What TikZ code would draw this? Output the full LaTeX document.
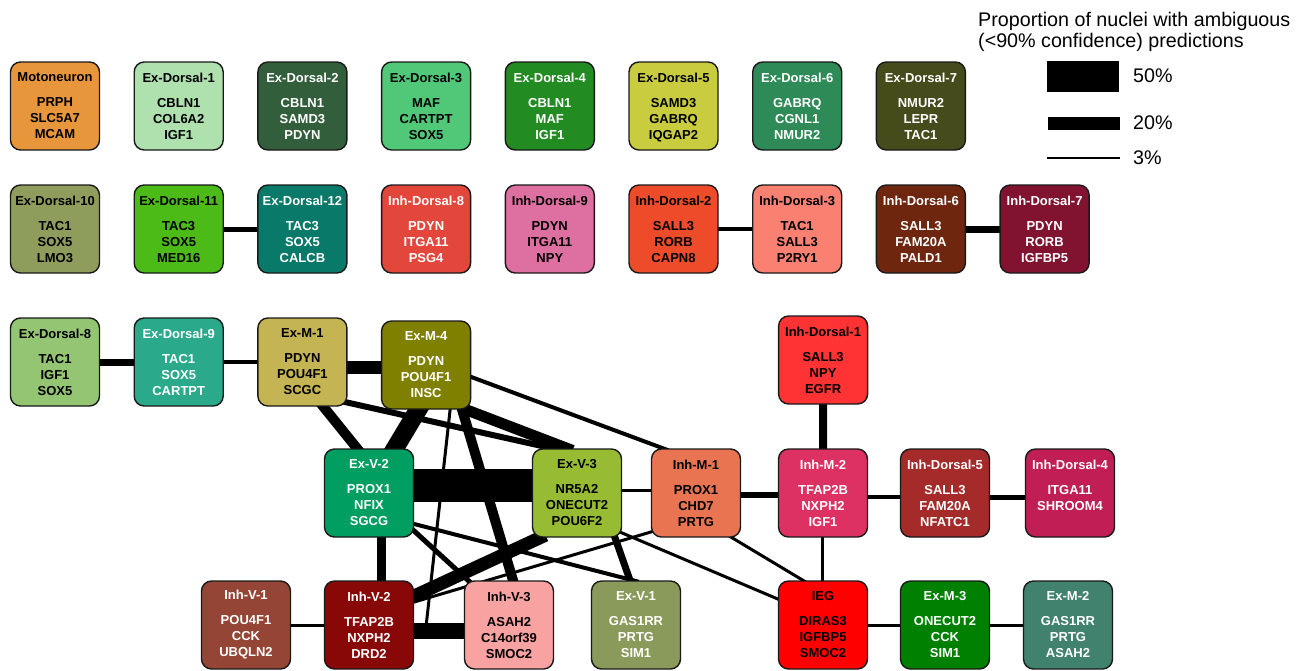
\documentclass[tikz,border=0pt]{standalone}
\usepackage{fontspec}
\setmainfont{Liberation Sans}
\usepackage{xcolor}
\usepackage{tikz}
\usetikzlibrary{positioning}
\pgfdeclarelayer{background}
\pgfsetlayers{background,main}
\definecolor{cMoto}{HTML}{E8963C}
\definecolor{cExDa}{HTML}{AFE1AF}
\definecolor{cExDb}{HTML}{335E3B}
\definecolor{cExDc}{HTML}{50C878}
\definecolor{cExDd}{HTML}{228B22}
\definecolor{cExDe}{HTML}{C9CC3F}
\definecolor{cExDf}{HTML}{2E8B57}
\definecolor{cExDg}{HTML}{454B1B}
\definecolor{cExDh}{HTML}{93C572}
\definecolor{cExDi}{HTML}{2AAA8A}
\definecolor{cExDj}{HTML}{8F9D5C}
\definecolor{cExDk}{HTML}{4CBB17}
\definecolor{cExDl}{HTML}{097969}
\definecolor{cInhDa}{HTML}{FF3333}
\definecolor{cInhDb}{HTML}{EE4B2B}
\definecolor{cInhDc}{HTML}{FA8072}
\definecolor{cInhDd}{HTML}{C21E56}
\definecolor{cInhDe}{HTML}{A52A2A}
\definecolor{cInhDf}{HTML}{6E260E}
\definecolor{cInhDg}{HTML}{811331}
\definecolor{cInhDh}{HTML}{E3463A}
\definecolor{cInhDi}{HTML}{DE6FA1}
\definecolor{cExMa}{HTML}{C4B454}
\definecolor{cExMb}{HTML}{40826D}
\definecolor{cExMc}{HTML}{008000}
\definecolor{cExMd}{HTML}{808000}
\definecolor{cExVa}{HTML}{8A9A5B}
\definecolor{cExVb}{HTML}{009E60}
\definecolor{cExVc}{HTML}{97BC34}
\definecolor{cInhMa}{HTML}{E97451}
\definecolor{cInhMb}{HTML}{DE3163}
\definecolor{cInhVa}{HTML}{954535}
\definecolor{cInhVb}{HTML}{880808}
\definecolor{cInhVc}{HTML}{F9A2A2}
\definecolor{cIEG}{HTML}{FF0000}
\tikzstyle{cell}     = [rectangle, draw=black!90, line width=1.4pt, rounded corners=10pt, minimum width=89pt, minimum height=88pt, inner sep=0pt, align=center, font=\fontsize{13}{16}\selectfont\bfseries]
\tikzstyle{light}    = [text=white]
\tikzstyle{link}     = [draw, line width=3pt, shorten <=-6pt, shorten >=-6pt]
\tikzstyle{key}      = [draw]
\tikzstyle{keylabel} = [anchor=west, inner sep=0pt, font=\fontsize{19.7}{21}\selectfont]

\begin{document}
\begin{tikzpicture}[x=1pt, y=-1pt, node distance=123.7pt, auto]
	\useasboundingbox (0,0) rectangle (1305,670);
	\node [cell, fill=cMoto] (moto) at (55,106) {Motoneuron\\[9pt]PRPH\\SLC5A7\\MCAM};
	\node [cell, fill=cExDa, right of=moto] (exd1) {Ex-Dorsal-1\\[9pt]CBLN1\\COL6A2\\IGF1};
	\node [cell, light, fill=cExDb, right of=exd1] (exd2) {Ex-Dorsal-2\\[9pt]CBLN1\\SAMD3\\PDYN};
	\node [cell, fill=cExDc, right of=exd2] (exd3) {Ex-Dorsal-3\\[9pt]MAF\\CARTPT\\SOX5};
	\node [cell, light, fill=cExDd, right of=exd3] (exd4) {Ex-Dorsal-4\\[9pt]CBLN1\\MAF\\IGF1};
	\node [cell, fill=cExDe, right of=exd4] (exd5) {Ex-Dorsal-5\\[9pt]SAMD3\\GABRQ\\\smash{IQGAP2}};
	\node [cell, light, fill=cExDf, right of=exd5] (exd6) {Ex-Dorsal-6\\[9pt]GABRQ\\CGNL1\\NMUR2};
	\node [cell, light, fill=cExDg, right of=exd6] (exd7) {Ex-Dorsal-7\\[9pt]NMUR2\\LEPR\\TAC1};

	\node [cell, fill=cExDj, below of=moto, node distance=123pt] (exd10) {Ex-Dorsal-10\\[9pt]TAC1\\SOX5\\LMO3};
	\node [cell, fill=cExDk, right of=exd10] (exd11) {Ex-Dorsal-11\\[9pt]TAC3\\SOX5\\MED16};
	\node [cell, light, fill=cExDl, right of=exd11] (exd12) {Ex-Dorsal-12\\[9pt]TAC3\\SOX5\\CALCB};
	\node [cell, light, fill=cInhDh, right of=exd12] (inhd8) {Inh-Dorsal-8\\[9pt]PDYN\\ITGA11\\PSG4};
	\node [cell, fill=cInhDi, right of=inhd8] (inhd9) {Inh-Dorsal-9\\[9pt]PDYN\\ITGA11\\NPY};
	\node [cell, fill=cInhDb, right of=inhd9] (inhd2) {Inh-Dorsal-2\\[9pt]SALL3\\RORB\\CAPN8};
	\node [cell, fill=cInhDc, right of=inhd2] (inhd3) {Inh-Dorsal-3\\[9pt]TAC1\\SALL3\\P2RY1};
	\node [cell, light, fill=cInhDf, right of=inhd3] (inhd6) {Inh-Dorsal-6\\[9pt]SALL3\\FAM20A\\PALD1};
	\node [cell, light, fill=cInhDg, right of=inhd6] (inhd7) {Inh-Dorsal-7\\[9pt]PDYN\\RORB\\IGFBP5};

	\node [cell, fill=cExDh, below of=exd10, node distance=133pt] (exd8) {Ex-Dorsal-8\\[9pt]TAC1\\IGF1\\SOX5};
	\node [cell, light, fill=cExDi, right of=exd8] (exd9) {Ex-Dorsal-9\\[9pt]TAC1\\SOX5\\CARTPT};
	\node [cell, fill=cExMa, right of=exd9] (exm1) {Ex-M-1\\[9pt]PDYN\\POU4F1\\SCGC};
	\node [cell, light, fill=cExMd, right of=exm1, yshift=-3pt] (exm4) {Ex-M-4\\[9pt]PDYN\\POU4F1\\INSC};
	\node [cell, fill=cInhDa, right of=exm4, node distance=397pt, yshift=5pt] (inhd1) {Inh-Dorsal-1\\[9pt]SALL3\\NPY\\EGFR};

	\node [cell, light, fill=cExVb] (exv2) at (369,493) {Ex-V-2\\[9pt]PROX1\\NFIX\\SGCG};
	\node [cell, fill=cExVc, right of=exv2, node distance=208pt] (exv3) {Ex-V-3\\[9pt]NR5A2\\ONECUT2\\POU6F2};
	\node [cell, fill=cInhMa, right of=exv3, node distance=119pt] (inhm1) {Inh-M-1\\[9pt]PROX1\\CHD7\\PRTG};
	\node [cell, light, fill=cInhMb, right of=inhm1, node distance=127pt] (inhm2) {Inh-M-2\\[9pt]TFAP2B\\NXPH2\\IGF1};
	\node [cell, light, fill=cInhDe, right of=inhm2, node distance=122pt] (inhd5) {Inh-Dorsal-5\\[9pt]SALL3\\FAM20A\\NFATC1};
	\node [cell, light, fill=cInhDd, right of=inhd5, node distance=125pt] (inhd4) {Inh-Dorsal-4\\[9pt]ITGA11\\SHROOM4\\~};

	\node [cell, light, fill=cInhVb, below of=exv2, node distance=132pt] (inhv2) {Inh-V-2\\[9pt]TFAP2B\\NXPH2\\DRD2};
	\node [cell, light, fill=cInhVa, left of=inhv2, node distance=123pt] (inhv1) {Inh-V-1\\[9pt]POU4F1\\CCK\\UBQLN2};
	\node [cell, fill=cInhVc, right of=inhv2, node distance=140pt] (inhv3) {Inh-V-3\\[9pt]ASAH2\\C14orf39\\SMOC2};
	\node [cell, light, fill=cExVa, right of=inhv3, node distance=127pt] (exv1) {Ex-V-1\\[9pt]GAS1RR\\PRTG\\SIM1};
	\node [cell, fill=cIEG, below of=inhm2, node distance=132pt] (ieg) {IEG\\[9pt]DIRAS3\\IGFBP5\\SMOC2};
	\node [cell, light, fill=cExMc, right of=ieg, node distance=122pt] (exm3) {Ex-M-3\\[9pt]ONECUT2\\CCK\\SIM1};
	\node [cell, light, fill=cExMb, right of=exm3, node distance=123pt] (exm2) {Ex-M-2\\[9pt]GAS1RR\\PRTG\\ASAH2};

	\begin{pgfonlayer}{background}
	\path [link, line width=5pt] (exd11) -- (exd12);
	\path [link, line width=4pt] (inhd2) -- (inhd3);
	\path [link, line width=7pt] (inhd6) -- (inhd7);
	\path [link, line width=7pt] (exd8) -- (exd9);
	\path [link, line width=4pt] (exd9) -- (exm1);
	\path [link, line width=13pt] ([yshift=-5pt]exm1.east) -- ([yshift=-2pt]exm4.west);
	\path [link, line width=4pt] ([yshift=-12pt]exm4.east) -- ([xshift=-33pt]inhm1.north);
	\path [link, line width=10pt] ([xshift=21pt]exm1.south) -- ([xshift=-12pt]exv2.north);
	\path [link, line width=18pt] ([xshift=-8pt]exm4.south) -- ([xshift=26pt]exv2.north);
	\path [link, line width=6pt] ([xshift=-4pt, yshift=5pt]exm1.south east) -- ([xshift=-25pt]exv3.north);
	\path [link, line width=11pt] ([xshift=40pt]exm4.south) -- ([xshift=-10pt]exv3.north);
	\path [link, line width=3pt] ([xshift=24pt]exm4.south) -- ([xshift=12pt]inhv2.east);
	\path [link, line width=10pt] ([xshift=36pt]exm4.south) -- ([xshift=4pt]inhv3.north);
	\path [link, line width=33pt] ([yshift=7.5pt]exv2.east) -- ([yshift=7.5pt]exv3.west);
	\path [link, line width=3pt] ([yshift=3pt]exv3.east) -- ([yshift=3pt]inhm1.west);
	\path [link, line width=6pt] ([yshift=-2pt]inhm1.east) -- ([yshift=-2pt]inhm2.west);
	\path [link, line width=4pt] ([yshift=-4pt]inhm2.east) -- ([yshift=-4pt]inhd5.west);
	\path [link, line width=5pt] ([yshift=-4pt]inhd5.east) -- ([yshift=-4pt]inhd4.west);
	\path [link, line width=8pt] (inhd1) -- (inhm2);
	\path [link, line width=3pt] ([xshift=-1pt]inhm2.south) -- ([xshift=-1pt]ieg.north);
	\path [link, line width=3pt] ([xshift=36pt]inhm1.south) -- ([xshift=-20pt]ieg.north);
	\path [link, line width=3pt] ([yshift=-40pt]exv3.east) -- ([yshift=26pt]ieg.west);
	\path [link, line width=4pt] ([yshift=-31pt]exv2.east) -- ([xshift=-3pt]exv1.north);
	\path [link, line width=5pt] ([yshift=-38pt]exv2.east) -- ([xshift=-41pt]inhv3.north);
	\path [link, line width=7pt] ([xshift=38pt]exv3.south) -- ([xshift=-6pt]exv1.north);
	\path [link, line width=13pt] ([xshift=-37pt]exv3.south) -- ([yshift=29pt]inhv2.east);
	\path [link, line width=3pt] ([yshift=-39pt]inhm1.west) -- ([yshift=23pt]inhv2.east);
	\path [link, line width=9pt] ([xshift=12pt]exv2.south) -- ([xshift=12pt]inhv2.north);
	\path [link, line width=3pt] (inhv1) -- (inhv2);
	\path [link, line width=16pt] ([yshift=-6pt]inhv2.east) -- ([yshift=-6pt]inhv3.west);
	\path [link, line width=3pt] (ieg) -- (exm3);
	\path [link, line width=3pt] (exm3) -- (exm2);
	\end{pgfonlayer}

	\node [keylabel, anchor=north west, align=left] (keytitle) at (978,12) {Proportion of nuclei with ambiguous\\(<90\% confidence) predictions};
	\node [keylabel] (k50) at (1133,76) {50\%};
	\node [keylabel] (k20) at (1133,123) {20\%};
	\node [keylabel] (k3) at (1133,158) {3\%};
	\coordinate (s50) at (1047,76);
	\coordinate (s20) at (1048,123);
	\coordinate (s3) at (1047,158);
	\path [key, line width=31pt] (s50) -- ([xshift=-14pt]k50.west);
	\path [key, line width=13pt] (s20) -- ([xshift=-13pt]k20.west);
	\path [key, line width=2pt] (s3) -- ([xshift=-13pt]k3.west);
\end{tikzpicture}
\end{document}
